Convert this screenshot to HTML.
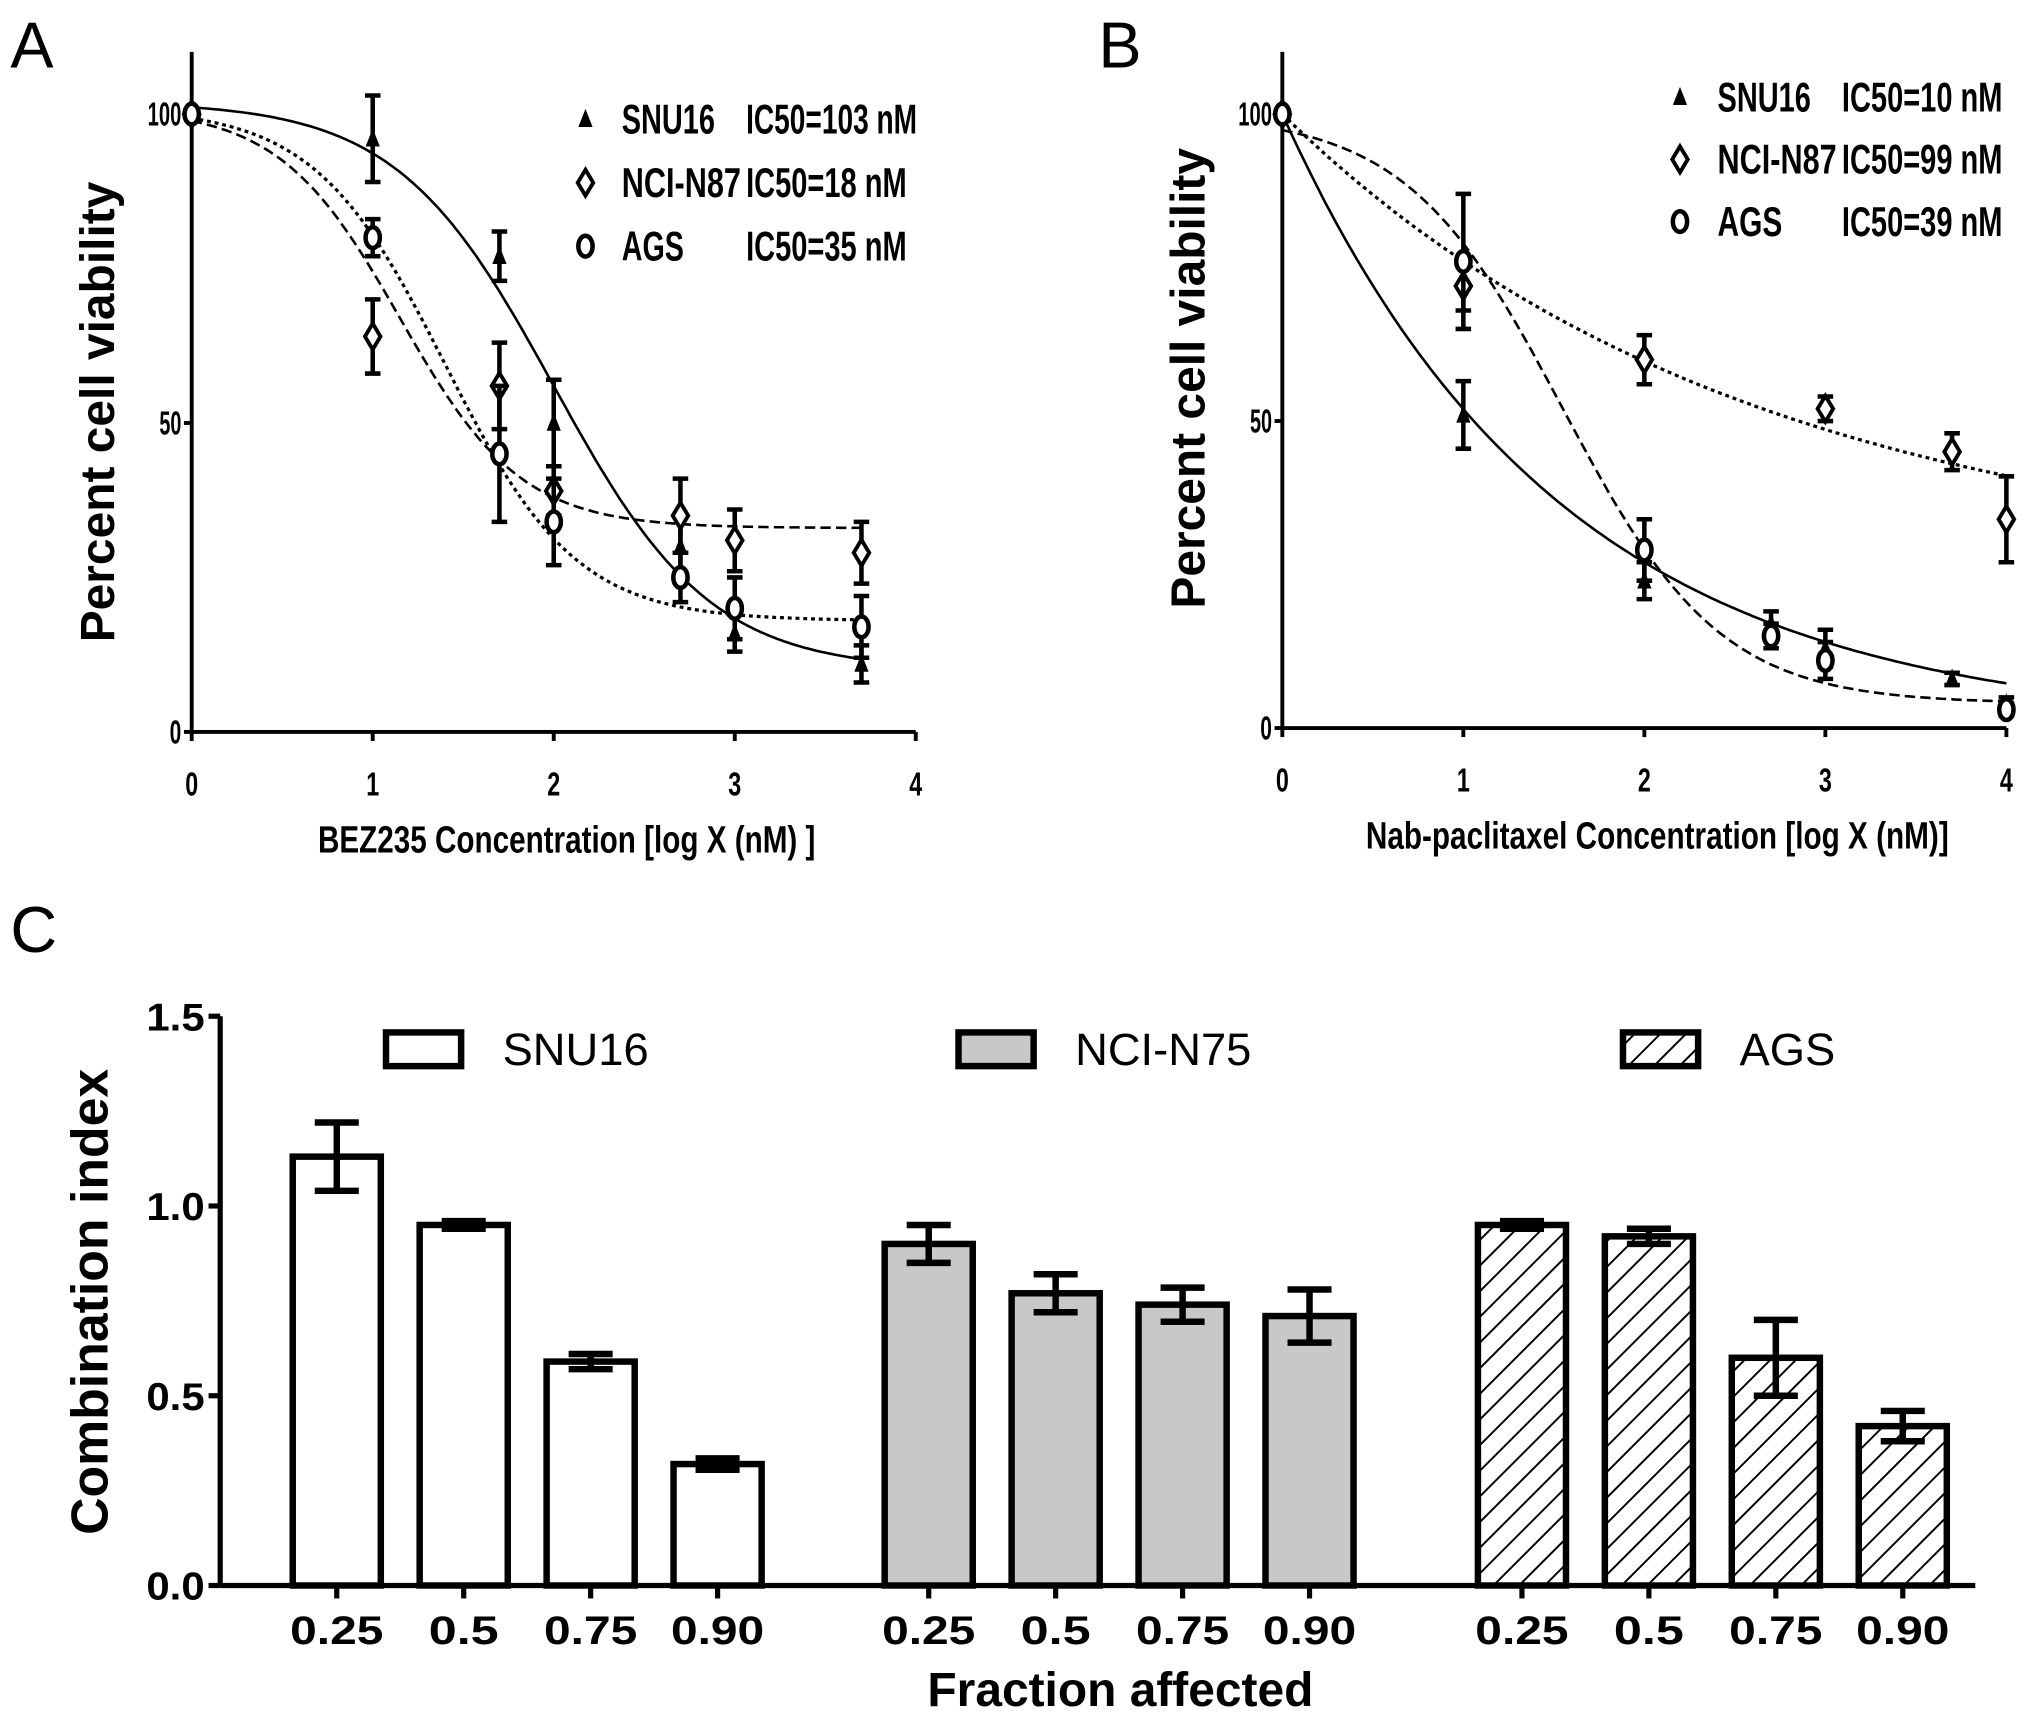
<!DOCTYPE html>
<html><head><meta charset="utf-8"><style>
html,body{margin:0;padding:0;background:#fff;}
svg{display:block;}
.cond{font-family:"Liberation Sans Narrow","Liberation Sans",sans-serif;font-weight:bold;}
.sans{font-family:"Liberation Sans",sans-serif;}
</style></head><body>
<svg id="fig" width="2031" height="1719" viewBox="0 0 1568 1327" xmlns="http://www.w3.org/2000/svg">
<text x="8" y="52" class="sans" font-size="50">A</text>
<text x="848" y="52" class="sans" font-size="50">B</text>
<text x="8" y="735" class="sans" font-size="50">C</text>
<g id="pa"></g>
<g id="pb"></g>
<g id="pc"></g>
</svg>
<script>
// ---- Panel A data ----
const aX = [0, 1, 1.7, 2, 2.7, 3, 3.7];
const aSnu = [100, 96, 77, 50, 30, 16, 11];
const aSnuErr = [0, 7, 4, 7, 5, 3, 3];
const aNci = [100, 64, 56, 39, 35, 31, 29];
const aNciErr = [0, 6, 7, 4, 6, 5, 5];
const aAgs = [100, 80, 45, 34, 25, 20, 17];
const aAgsErr = [0, 3, 11, 7, 4, 5, 5];
const aFitSnu = [102, 10, 2.0, 1.0];
const aFitNci = [101, 33, 1.15, 1.3];
const aFitAgs = [101, 18, 1.4, 1.2];
// ---- Panel B data ----
const bX = [0, 1, 2, 2.7, 3, 3.7, 4];
const bSnu = [100, 51, 24, 17, 13, 8, 4];
const bSnuErr = [0, 5.5, 3, 2, 3, 1, 1];
const bNci = [100, 72, 60, null, 52, 45, 34];
const bNciErr = [0, 4, 4, 0, 2, 3, 7];
const bAgs = [100, 76, 29, 15, 11, null, 3];
const bAgsErr = [0, 11, 5, 2, 3, 0, 1];
const bFitSnu = [100, 0, 0.655];
const bFitNci = [100, 25, 0.385];
const bFitAgs = [100, 4, 1.55, 1.0];
// ---- Panel C data ----
const cCats = ["0.25", "0.5", "0.75", "0.90"];
const cGroups = ["SNU16", "NCI-N75", "AGS"];
const cSnu = [1.13, 0.95, 0.59, 0.32];
const cSnuErr = [0.09, 0.01, 0.02, 0.015];
const cNci = [0.90, 0.77, 0.74, 0.71];
const cNciErr = [0.05, 0.05, 0.045, 0.07];
const cAgs = [0.95, 0.92, 0.60, 0.42];
const cAgsErr = [0.01, 0.02, 0.10, 0.04];
const cYTicks = ["0.0", "0.5", "1.0", "1.5"];

const NS = "http://www.w3.org/2000/svg";
function mk(parent, tag, attrs, text){
  const e = document.createElementNS(NS, tag);
  for (const k in attrs) e.setAttribute(k, attrs[k]);
  if (text !== undefined) e.textContent = text;
  parent.appendChild(e); return e;
}
function logistic(p, x){ return p[1] + (p[0]-p[1])/(1+Math.pow(10, p[3]*(x-p[2]))); }
function expo(p, x){ return p[1] + (p[0]-p[1])*Math.exp(-p[2]*x); }

function marker(g, type, cx, cy){
  let m;
  if (type === 'tri') {
    m = mk(g, 'path', {d:`M${cx},${cy-8} L${cx+5.5},${cy+6} L${cx-5.5},${cy+6} Z`, fill:'#000'});
  } else if (type === 'dia') {
    m = mk(g, 'path', {d:`M${cx},${cy-10} L${cx+6},${cy} L${cx},${cy+10} L${cx-6},${cy} Z`, fill:'#fff', stroke:'#000', 'stroke-width':3});
  } else {
    m = mk(g, 'ellipse', {cx:cx, cy:cy, rx:5.5, ry:8, fill:'#fff', stroke:'#000', 'stroke-width':3.5});
  }
  return m;
}

function doseChart(g, ox, y0, y100, xs, series, xlabel, legend, ylabelY){
  const x0 = ox, x4 = ox + 559;
  const sx = v => x0 + (x4-x0)*v/4;
  const sy = v => y0 - (y0-y100)*v/100;
  const ya = mk(g,'line',{x1:x0,y1:40,x2:x0,y2:y0,stroke:'#000','stroke-width':3});
  
  
  const xa = mk(g,'line',{x1:x0,y1:y0,x2:x4,y2:y0,stroke:'#000','stroke-width':3});
  
  
  [0,50,100].forEach(v=>{
    mk(g,'line',{x1:x0-6,y1:sy(v),x2:x0,y2:sy(v),stroke:'#000','stroke-width':3});
    const t = mk(g,'text',{x:x0-8,y:sy(v)+9,'text-anchor':'end','font-size':26,class:'cond',textLength:(v===100?26:v===50?17:9),lengthAdjust:'spacingAndGlyphs'},String(v));
    
    
  });
  [0,1,2,3,4].forEach(v=>{
    mk(g,'line',{x1:sx(v),y1:y0,x2:sx(v),y2:y0+7,stroke:'#000','stroke-width':3});
    const t = mk(g,'text',{x:sx(v),y:y0+49,'text-anchor':'middle','font-size':26,class:'cond',textLength:10,lengthAdjust:'spacingAndGlyphs'},String(v));
    
    
  });
  const yl = mk(g,'text',{x:0,y:0,transform:`translate(${ox-60},${ylabelY}) rotate(-90)`,'text-anchor':'middle','font-size':37,'font-weight':'bold',class:'sans'},'Percent cell viability');
  
  
  const xl = mk(g,'text',{x:(x0+x4)/2+10,y:y0+93,'text-anchor':'middle','font-size':29,class:'cond',textLength:xlabel.len,lengthAdjust:'spacingAndGlyphs'},xlabel.text);
  
  
  series.forEach(s=>{
    let d='';
    for(let i=0;i<=200;i++){const xv=s.xmax*i/200;const yv=s.f(xv);d+=(i?'L':'M')+sx(xv).toFixed(1)+','+sy(yv).toFixed(1);}
    const c = mk(g,'path',{d:d,fill:'none',stroke:'#000','stroke-width':s.dash==='dot'?2.5:2,'stroke-dasharray':s.dash==='solid'?'none':(s.dash==='dash'?'8,4':'3,3')});
    
    
    xs.forEach((xv,i)=>{
      const v = s.y[i]; if(v===null) return;
      const e = s.err[i];
      if(e>0){
        const eb = mk(g,'path',{d:`M${sx(xv)},${sy(v+e)} V${sy(v-e)} M${sx(xv)-6},${sy(v+e)} H${sx(xv)+6} M${sx(xv)-6},${sy(v-e)} H${sx(xv)+6}`,stroke:'#000','stroke-width':3.5,fill:'none'});
        
        
      }
      const m = marker(g,s.mk,sx(xv),sy(v));
      
      
    });
  });
  legend.forEach((L,i)=>{
    const ly = legend.y0 + i*legend.dy;
    const m = marker(g,L.mk,legend.mx,ly-11);
    
    
    const t1 = mk(g,'text',{x:legend.tx,y:ly,'font-size':32,class:'cond',textLength:L.l1,lengthAdjust:'spacingAndGlyphs'},L.name);
    
    
    const t2 = mk(g,'text',{x:legend.ix,y:ly,'font-size':32,class:'cond',textLength:L.l2,lengthAdjust:'spacingAndGlyphs'},L.ic);
    
    
  });
}

const legA = [
  {mk:'tri',name:'SNU16',ic:'IC50=103 nM',l1:72,l2:132},
  {mk:'dia',name:'NCI-N87',ic:'IC50=18 nM',l1:92,l2:124},
  {mk:'circ',name:'AGS',ic:'IC50=35 nM',l1:48,l2:124}];
legA.y0=103; legA.dy=49; legA.mx=452; legA.tx=480; legA.ix=576;
doseChart(document.getElementById('pa'),148,565,88,aX,[
  {name:'snu16',y:aSnu,err:aSnuErr,mk:'tri',dash:'solid',xmax:3.7,f:x=>logistic(aFitSnu,x)},
  {name:'nci-n87',y:aNci,err:aNciErr,mk:'dia',dash:'dash',xmax:3.7,f:x=>logistic(aFitNci,x)},
  {name:'ags',y:aAgs,err:aAgsErr,mk:'circ',dash:'dot',xmax:3.7,f:x=>logistic(aFitAgs,x)}],
  {text:'BEZ235 Concentration [log X (nM) ]',len:384},legA,318);

const legB = [
  {mk:'tri',name:'SNU16',ic:'IC50=10 nM',l1:72,l2:124},
  {mk:'dia',name:'NCI-N87',ic:'IC50=99 nM',l1:92,l2:124},
  {mk:'circ',name:'AGS',ic:'IC50=39 nM',l1:50,l2:124}];
legB.y0=86; legB.dy=48; legB.mx=1297; legB.tx=1326; legB.ix=1422;
doseChart(document.getElementById('pb'),990,562,88,bX,[
  {name:'snu16',y:bSnu,err:bSnuErr,mk:'tri',dash:'solid',xmax:4,f:x=>expo(bFitSnu,x)},
  {name:'nci-n87',y:bNci,err:bNciErr,mk:'dia',dash:'dot',xmax:4,f:x=>expo(bFitNci,x)},
  {name:'ags',y:bAgs,err:bAgsErr,mk:'circ',dash:'dash',xmax:4,f:x=>logistic(bFitAgs,x)}],
  {text:'Nab-paclitaxel Concentration [log X (nM)]',len:450},legB,292);

// ---- Panel C ----
(function(){
  const g = document.getElementById('pc');
  const defs = mk(g,'defs',{});
  const pat = mk(defs,'pattern',{id:'hatch',patternUnits:'userSpaceOnUse',width:14,height:14,patternTransform:'rotate(45)'});
  mk(pat,'rect',{x:0,y:0,width:14,height:14,fill:'#fff'});
  mk(pat,'line',{x1:0,y1:0,x2:0,y2:14,stroke:'#000','stroke-width':3});
  const ax = 170, y0 = 1224, perUnit = 293;
  const sy = v => y0 - v*perUnit;
  const groupStart = [260, 717, 1175], step = 98, bw = 68;
  const fills = ['#fff','#c8c8c8','url(#hatch)'];
  const vals = [cSnu, cNci, cAgs], errs = [cSnuErr, cNciErr, cAgsErr];
  const ya = mk(g,'line',{x1:ax,y1:sy(1.5),x2:ax,y2:y0,stroke:'#000','stroke-width':4});
  
  
  const xa = mk(g,'line',{x1:ax,y1:y0,x2:1525,y2:y0,stroke:'#000','stroke-width':4});
  
  
  cYTicks.forEach(t=>{
    const v = parseFloat(t);
    mk(g,'line',{x1:ax-9,y1:sy(v),x2:ax,y2:sy(v),stroke:'#000','stroke-width':4});
    const tl = mk(g,'text',{x:ax-12,y:sy(v)+11,'text-anchor':'end','font-size':30,'font-weight':'bold',class:'sans',textLength:45,lengthAdjust:'spacingAndGlyphs'},t);
    
    
  });
  vals.forEach((arr,gi)=>{
    arr.forEach((v,i)=>{
      const cx = groupStart[gi] + i*step;
      const r = mk(g,'rect',{x:cx-bw/2,y:sy(v),width:bw,height:y0-sy(v),fill:fills[gi],stroke:'#000','stroke-width':5});
      
      
      const e = errs[gi][i];
      const eb = mk(g,'path',{d:`M${cx},${sy(v+e)} V${sy(v-e)} M${cx-17},${sy(v+e)} H${cx+17} M${cx-17},${sy(v-e)} H${cx+17}`,stroke:'#000','stroke-width':5,fill:'none'});
      
      
      mk(g,'line',{x1:cx,y1:y0,x2:cx,y2:y0+10,stroke:'#000','stroke-width':4});
      const tl = mk(g,'text',{x:cx,y:y0+45,'text-anchor':'middle','font-size':31,'font-weight':'bold',class:'sans',textLength:cCats[i].length*18,lengthAdjust:'spacingAndGlyphs'},cCats[i]);
      
      
    });
  });
  const legX = [298, 740, 1253], legT = [388, 830, 1343];
  cGroups.forEach((name,gi)=>{
    const b = mk(g,'rect',{x:legX[gi],y:797,width:58,height:26,fill:fills[gi],stroke:'#000','stroke-width':5});
    
    
    const t = mk(g,'text',{x:legT[gi],y:822,'font-size':35,class:'sans'},name);
    
    
  });
  const yl = mk(g,'text',{x:0,y:0,transform:`translate(83,1005) rotate(-90)`,'text-anchor':'middle','font-size':40,'font-weight':'bold',class:'sans'},'Combination index');
  
  
  const xl = mk(g,'text',{x:865,y:1317,'text-anchor':'middle','font-size':37,'font-weight':'bold',class:'sans'},'Fraction affected');
  
  
})();
</script>
</body></html>
